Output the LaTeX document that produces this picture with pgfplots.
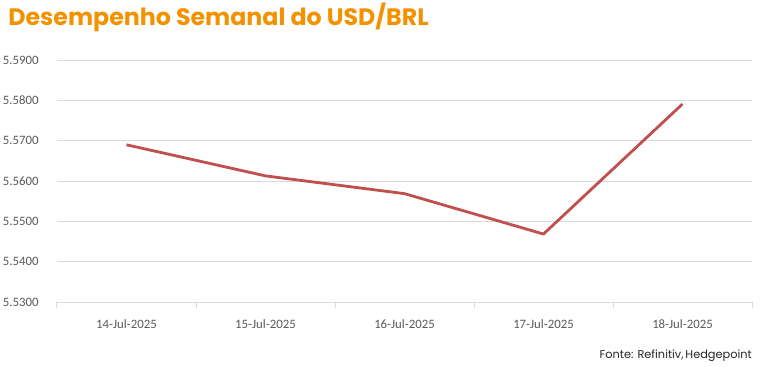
\documentclass[border=0pt]{standalone}
\usepackage{pgfplots}
\pgfplotsset{compat=1.18}
\usepackage{fontspec}
\setmainfont{Carlito}
\newfontfamily\titlefont{Poppins}
\definecolor{ttl}{HTML}{F39200}
\definecolor{ln}{HTML}{C0504D}
\definecolor{grd}{HTML}{D9D9D9}
\definecolor{lbl}{HTML}{595959}
\begin{document}
\begin{tikzpicture}
\path[use as bounding box] (0,0) rectangle (577.5pt,-275.25pt);
\node[anchor=base west, inner sep=0pt, text=ttl, font=\titlefont\bfseries\fontsize{17.8}{19}\selectfont] at (6pt,-19.5pt) {Desempenho Semanal do USD/BRL};
\node[anchor=base east, inner sep=0pt, text=black!85, font=\titlefont\fontsize{8.5}{10}\selectfont] at (564pt,-269pt) {Fonte: Refinitiv,\,Hedgepoint};
\begin{axis}[
  at={(42.75pt,-226.7pt)}, anchor=south west,
  scale only axis, width=521.25pt, height=181.7pt,
  xmin=-0.5, xmax=4.5, ymin=5.53, ymax=5.59,
  xtick={0,1,2,3,4},
  xticklabels={14-Jul-2025,15-Jul-2025,16-Jul-2025,17-Jul-2025,18-Jul-2025},
  minor xtick={-0.5,0.5,1.5,2.5,3.5,4.5},
  minor tick length=4pt,
  minor x tick style={draw=grd, line width=0.75pt},
  major x tick style={draw=none},
  tick align=outside,
  ytick={5.53,5.54,5.55,5.56,5.57,5.58,5.59},
  ymajorgrids, grid style={draw=grd, line width=0.75pt},
  major y tick style={draw=none},
  axis x line*=bottom, axis y line*=left,
  x axis line style={draw=grd, line width=0.75pt, -},
  y axis line style={draw=none},
  tick label style={text=lbl, font=\fontsize{9.6}{11}\selectfont},
  /pgf/number format/assume math mode=true,
  yticklabel style={/pgf/number format/fixed, /pgf/number format/fixed zerofill, /pgf/number format/precision=4, xshift=-6pt},
  xticklabel style={yshift=-5pt},
  clip=false,
]
\addplot[ln, line width=2.1pt, line join=round] coordinates {
(0,5.5690) (1,5.5613) (2,5.5569) (3,5.5469) (4,5.5791)};
\end{axis}
\end{tikzpicture}
\end{document}
